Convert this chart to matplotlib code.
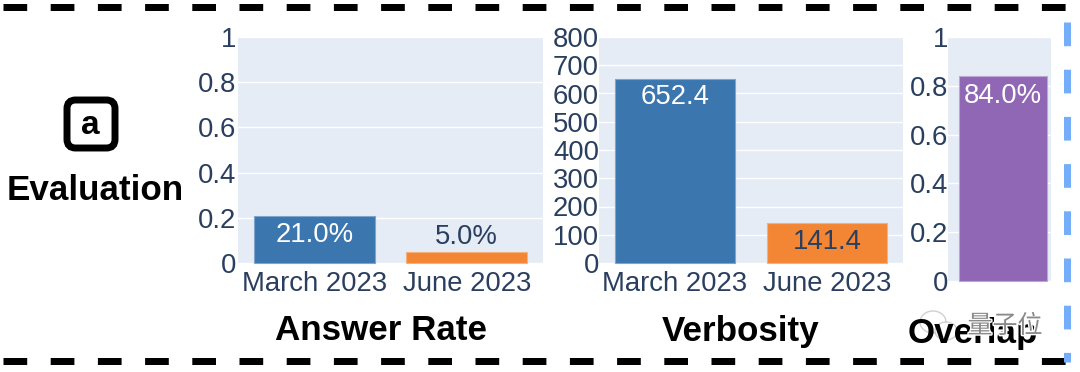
import matplotlib
matplotlib.use("Agg")
import matplotlib.pyplot as plt
import matplotlib.patheffects as pe
from matplotlib.lines import Line2D
from matplotlib.patches import FancyBboxPatch, Ellipse

W, H = 1080, 372

months = ["March 2023", "June 2023"]
answer_rate = [0.21, 0.05]
answer_labels = ["21.0%", "5.0%"]
verbosity = [652.4, 141.4]
verbosity_labels = ["652.4", "141.4"]
overlap = [0.84]
overlap_labels = ["84.0%"]
rate_ticks = [0, 0.2, 0.4, 0.6, 0.8, 1]
rate_ticklabels = ["0", "0.2", "0.4", "0.6", "0.8", "1"]
verb_ticks = [0, 100, 200, 300, 400, 500, 600, 700, 800]

BLUE = "#3b76af"
ORANGE = "#f28635"
PURPLE = "#8f67b4"
INK = "#2a3f5f"
PANEL = "#e5ecf6"

plt.rcParams["font.family"] = ["Liberation Sans", "DejaVu Sans"]

fig = plt.figure(figsize=(W / 100, H / 100), dpi=100, facecolor="white")


def make_axes(x0, x1, y0, y1, ypad=1):
    # pixel box, y measured from the top of the picture
    ax = fig.add_axes([x0 / W, 1 - y1 / H, (x1 - x0) / W, (y1 - y0) / H])
    ax.set_facecolor(PANEL)
    ax.set_axisbelow(True)
    ax.grid(axis="y", color="white", linewidth=1.0)
    for s in ax.spines.values():
        s.set_visible(False)
    ax.tick_params(length=0, labelsize=19.8, labelcolor=INK)
    ax.tick_params(axis="y", pad=ypad)
    ax.tick_params(axis="x", pad=6)
    return ax


def bars(ax, xs, vals, cols, edges):
    return ax.bar(xs, vals, width=0.795, color=cols, edgecolor=edges, linewidth=0.8, clip_on=False)


def fig_text(x, y, s, **kw):
    return fig.text(x / W, 1 - y / H, s, transform=fig.transFigure, **kw)


def value_label(ax, x, y, s, off, col):
    ax.annotate(s, (x, y), xytext=(0, off), textcoords="offset pixels", ha="center",
                va="center", fontsize=19.8, color=col)


def center_ticks(ax):
    for t in ax.get_yticklabels():
        t.set_verticalalignment("center_baseline")


# Answer Rate
ax1 = make_axes(238, 543, 37, 263)
bars(ax1, [0, 1], answer_rate, [BLUE, ORANGE], ["#7ea6cc", "#f6b07c"])
ax1.set_xlim(-0.5, 1.5)
ax1.set_ylim(0, 1)
ax1.set_yticks(rate_ticks, rate_ticklabels)
ax1.set_xticks([0, 1], months)
center_ticks(ax1)
value_label(ax1, 0, answer_rate[0], answer_labels[0], -19, "white")
value_label(ax1, 1, answer_rate[1], answer_labels[1], 15, INK)

# Verbosity
ax2 = make_axes(599, 903, 37, 263, ypad=0)
bars(ax2, [0, 1], verbosity, [BLUE, ORANGE], ["#7ea6cc", "#f6b07c"])
ax2.set_xlim(-0.5, 1.5)
ax2.set_ylim(0, 800)
ax2.set_yticks(verb_ticks)
ax2.set_xticks([0, 1], months)
center_ticks(ax2)
value_label(ax2, 0, verbosity[0], verbosity_labels[0], -18, "white")
value_label(ax2, 1, verbosity[1], verbosity_labels[1], -19, INK)

# Overlap
ax3 = make_axes(948, 1051, 37, 281, ypad=0)
bars(ax3, [0], overlap, [PURPLE], ["#bda6d4"])
ax3.set_xlim(-0.5, 0.436)
ax3.set_ylim(0, 1)
ax3.set_yticks(rate_ticks, rate_ticklabels)
ax3.set_xticks([])
center_ticks(ax3)
value_label(ax3, 0, overlap[0], overlap_labels[0], -20, "white")

# titles
fig_text(381, 331, "Answer Rate", fontsize=25.2, fontweight="bold", ha="center", va="center", color="black")
fig_text(741, 331, "Verbosity", fontsize=25.2, fontweight="bold", ha="center", va="center", color="black")
fig_text(973, 333, "Overlap", fontsize=25.2, fontweight="bold", ha="center", va="center", color="black")
fig_text(95, 191, "Evaluation", fontsize=25.2, fontweight="bold", ha="center", va="center", color="black")

# the boxed "a"
box = FancyBboxPatch((67 / W, 1 - 148 / H), 48 / W, 48 / H, boxstyle="round,pad=0,rounding_size=0.008",
                     mutation_aspect=W / H, transform=fig.transFigure, facecolor="white",
                     edgecolor="black", linewidth=5)
fig.add_artist(box)
fig_text(90.5, 126, "a", fontsize=24, fontweight="bold", ha="center", va="center", color="black")

# dashed frame, pattern is in units of the line width (7 px)
dash = (0, (23.7 / 7, 23.5 / 7))
for yy in [7, 361]:
    fig.add_artist(Line2D([3 / W, 1075 / W], [1 - yy / H, 1 - yy / H], transform=fig.transFigure,
                          color="black", linewidth=5.04, linestyle=dash, dash_capstyle="butt"))
fig.add_artist(Line2D([1067 / W, 1067 / W], [1 - 22 / H, 1 - 362 / H], transform=fig.transFigure,
                      color="#74aefb", linewidth=5.04, linestyle=dash, dash_capstyle="butt"))

# watermark
halo = [pe.withStroke(linewidth=2.0, foreground="white")]
for cx, cy, rx, ry in [(933, 322, 13, 11), (946, 331, 11, 9)]:
    fig.add_artist(Ellipse((cx / W, 1 - cy / H), 2 * rx / W, 2 * ry / H, transform=fig.transFigure,
                           facecolor="#ffffff", edgecolor="#c8c8c8", linewidth=1.0, alpha=0.85))
fig_text(1005, 326, "量子位", fontsize=18, family=["Noto Sans CJK SC", "DejaVu Sans"], ha="center",
         va="center", color="#8a8a8a", path_effects=halo)

fig.savefig("out.png", dpi=100)
